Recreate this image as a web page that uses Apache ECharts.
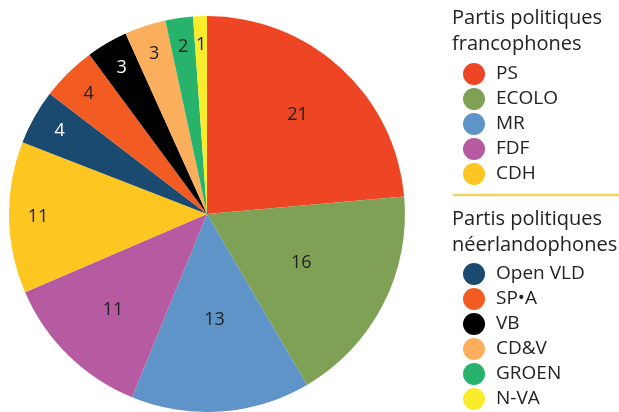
<!DOCTYPE html>
<html>
<head>
<meta charset="utf-8">
<title></title>
<script src="https://cdn.jsdelivr.net/npm/echarts@6/dist/echarts.min.js"></script>
<style>
  html, body { margin: 0; padding: 0; background: #fff; }
</style>
</head>
<body>
<div id="main" style="width:619px;height:412px;"></div>
<script type="text/javascript">
// partis et sièges
var frNames = ['PS', 'ECOLO', 'MR', 'FDF', 'CDH'];
var frSeats = [21, 16, 13, 11, 11];
var nlNames = ['Open VLD', 'SP\u2022A', 'VB', 'CD&V', 'GROEN', 'N-VA'];
var nlSeats = [4, 4, 3, 3, 2, 1];
var colors = ['#ee4624', '#7fa155', '#5f94c8', '#b65ba1', '#fdc621',
              '#1a4a6f', '#f25b22', '#000000', '#fbaf5d', '#27b36b', '#f9ec2b'];

var names = frNames.concat(nlNames);
var seats = frSeats.concat(nlSeats);
// groupes d'étiquettes : près du centre, au milieu, près du bord
var innerIdx = [1, 2];
var midIdx = [0, 3];
var whiteIdx = [5, 7];

var font = '"Open Sans", sans-serif';
var cx = 207, cy = 214, R = 198;

var pieData = function(showFn) {
    var out = [];
    for (var i = 0; i < names.length; i++) {
        out.push({
            name: names[i],
            value: seats[i],
            itemStyle: { color: colors[i] },
            label: {
                show: showFn(i),
                color: whiteIdx.indexOf(i) >= 0 ? '#fff' : '#222'
            }
        });
    }
    return out;
};

var labelSeries = function(r0, r1, showFn) {
    return {
        type: 'pie',
        center: [cx, cy],
        radius: [r0, r1],
        startAngle: 90,
        clockwise: true,
        silent: true,
        z: 5,
        itemStyle: { opacity: 0 },
        label: {
            position: 'inside',
            formatter: '{c}',
            fontFamily: font,
            fontSize: 18,
            opacity: 1
        },
        labelLine: { show: false },
        data: pieData(showFn)
    };
};

var legendBase = function(top, list) {
    return {
        orient: 'vertical',
        left: 458,
        top: top,
        height: 160,
        icon: 'circle',
        itemWidth: 22,
        itemHeight: 22,
        itemGap: 3,
        selectedMode: false,
        textStyle: { fontFamily: font, fontSize: 19, lineHeight: 22, color: '#222', padding: [0, 0, 0, 6] },
        data: list
    };
};

var myChart = echarts.init(document.getElementById('main'));
var option = {
    animation: false,
    legend: [legendBase(58, frNames), legendBase(258, nlNames)],
    graphic: [{
        type: 'text',
        left: 452,
        top: 5,
        style: { text: 'Partis politiques\nfrancophones', font: '20px ' + font, fill: '#222', lineHeight: 26 }
    }, {
        type: 'line',
        shape: { x1: 453, y1: 195, x2: 619, y2: 195 },
        style: { stroke: '#e9d55f', lineWidth: 2.5 }
    }, {
        type: 'text',
        left: 452,
        top: 206,
        style: { text: 'Partis politiques\nn\u00e9erlandophones', font: '20px ' + font, fill: '#222', lineHeight: 26 }
    }],
    series: [{
        type: 'pie',
        center: [cx, cy],
        radius: [0, R],
        startAngle: 90,
        clockwise: true,
        label: { show: false },
        labelLine: { show: false },
        data: pieData(function() { return false; })
    },
    labelSeries(0, 206, function(i) { return innerIdx.indexOf(i) >= 0; }),
    labelSeries(0, 262, function(i) { return midIdx.indexOf(i) >= 0; }),
    labelSeries(132, 200, function(i) { return innerIdx.indexOf(i) < 0 && midIdx.indexOf(i) < 0; })]
};
myChart.setOption(option);
</script>
</body>
</html>
